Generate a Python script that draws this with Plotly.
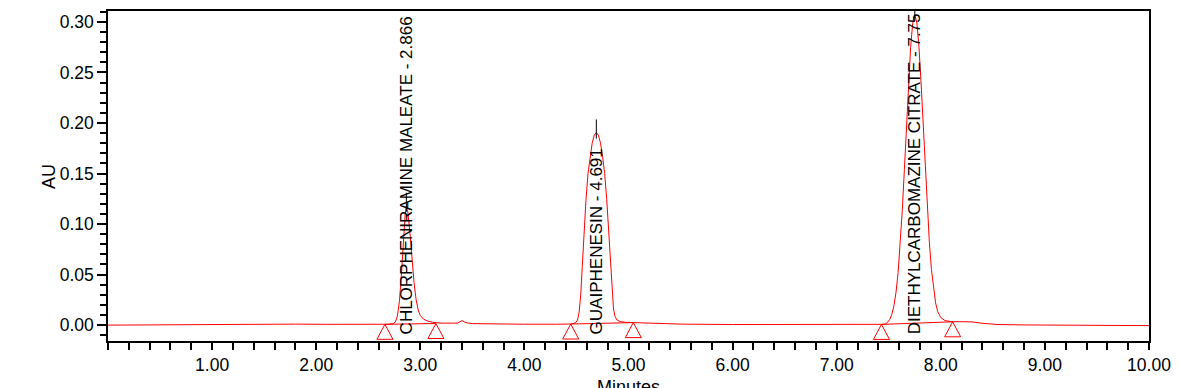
import plotly.graph_objects as go

# ---- chromatogram trace (minutes, AU) ----
time_min = [0.00, 0.30, 0.60, 0.90, 1.20, 1.50, 1.80, 2.10, 2.40, 2.60,
            2.70, 2.74, 2.76, 2.78, 2.80, 2.82, 2.84, 2.855, 2.866, 2.88,
            2.90, 2.92, 2.94, 2.96, 2.98, 3.00, 3.03, 3.07, 3.12, 3.20,
            3.30, 3.36, 3.40, 3.44, 3.50, 3.70, 4.00, 4.30, 4.45, 4.49,
            4.51, 4.526, 4.541, 4.556, 4.571, 4.591, 4.611, 4.631, 4.651, 4.671,
            4.691, 4.711, 4.731, 4.751, 4.771, 4.791, 4.811, 4.826, 4.841, 4.856,
            4.871, 4.891, 4.92, 4.97, 5.05, 5.20, 5.50, 6.00, 6.50, 7.00,
            7.30, 7.44, 7.47, 7.49, 7.51, 7.53, 7.55, 7.57, 7.59, 7.61,
            7.63, 7.65, 7.67, 7.69, 7.71, 7.73, 7.75, 7.77, 7.79, 7.81,
            7.83, 7.85, 7.87, 7.89, 7.91, 7.93, 7.95, 7.97, 8.00, 8.04,
            8.10, 8.20, 8.30, 8.40, 8.55, 8.80, 9.20, 9.60, 10.00]
au = [0.0000, 0.0002, 0.0006, 0.0009, 0.0011, 0.0011, 0.0010, 0.0008, 0.0007, 0.0007,
      0.0009, 0.0014, 0.0030, 0.0090, 0.0240, 0.0520, 0.0880, 0.1100, 0.1180, 0.1120,
      0.0920, 0.0660, 0.0420, 0.0250, 0.0150, 0.0095, 0.0060, 0.0040, 0.0028, 0.0020,
      0.0016, 0.0020, 0.0045, 0.0024, 0.0015, 0.0011, 0.0009, 0.0009, 0.0011, 0.0022,
      0.0050, 0.0130, 0.0300, 0.0580, 0.0880, 0.1230, 0.1500, 0.1670, 0.1800, 0.1880,
      0.1905, 0.1880, 0.1800, 0.1670, 0.1500, 0.1240, 0.0900, 0.0610, 0.0330, 0.0160,
      0.0085, 0.0050, 0.0035, 0.0028, 0.0025, 0.0018, 0.0010, 0.0006, 0.0005, 0.0005,
      0.0006, 0.0008, 0.0013, 0.0029, 0.0057, 0.0108, 0.0193, 0.0326, 0.0522, 0.0791,
      0.1133, 0.1537, 0.1972, 0.2393, 0.2748, 0.2986, 0.3070, 0.2990, 0.2755, 0.2405,
      0.1990, 0.1560, 0.1160, 0.0820, 0.0550, 0.0355, 0.0220, 0.0135, 0.0075, 0.0045,
      0.0034, 0.0034, 0.0032, 0.0018, 0.0006, 0.0002, 0.0000, -0.0003, -0.0005]

# ---- peaks ----
peak_names = ["CHLORPHENIRAMINE MALEATE - 2.866",
              "GUAIPHENESIN - 4.691",
              "DIETHYLCARBOMAZINE CITRATE - 7.75"]
peak_rt = [2.866, 4.691, 7.75]
peak_height = [0.118, 0.1905, 0.307]

# ---- integration start / end markers ----
mark_time = [2.66, 3.15, 4.445, 5.046, 7.43, 8.114]
mark_au = [0.0008, 0.0016, 0.0011, 0.0025, 0.0007, 0.0033]

# ---- axis ticks ----
x_tickvals = [1, 2, 3, 4, 5, 6, 7, 8, 9, 10]
x_ticktext = ["1.00", "2.00", "3.00", "4.00", "5.00", "6.00", "7.00", "8.00", "9.00", "10.00"]
y_tickvals = [0.00, 0.05, 0.10, 0.15, 0.20, 0.25, 0.30]
y_ticktext = ["0.00", "0.05", "0.10", "0.15", "0.20", "0.25", "0.30"]

FONT = "Arial, Liberation Sans, sans-serif"
RED = "#ff0000"

fig = go.Figure()
fig.add_trace(go.Scatter(x=time_min, y=au, mode="lines",
                         line=dict(color=RED, width=1), hoverinfo="skip"))

# integration baselines between start/end markers
for i in range(0, len(mark_time), 2):
    fig.add_trace(go.Scatter(x=mark_time[i:i + 2], y=mark_au[i:i + 2], mode="lines",
                             line=dict(color=RED, width=1), hoverinfo="skip"))

shapes = []
for t, v in zip(mark_time, mark_au):
    shapes.append(dict(type="path", xref="x", yref="y",
                       xsizemode="pixel", ysizemode="pixel",
                       xanchor=t, yanchor=v,
                       path="M -8,-15 L 0,0 L 8,-15 Z",
                       line=dict(color=RED, width=1)))
for t, h in zip(peak_rt, peak_height):
    shapes.append(dict(type="line", xref="x", yref="y",
                       x0=t, x1=t, y0=h - 0.006, y1=h + 0.013,
                       line=dict(color="black", width=1)))

annotations = []
for name, t in zip(peak_names, peak_rt):
    annotations.append(dict(x=t, y=-0.0108, xref="x", yref="y", text=name,
                            textangle=-90, xanchor="center", yanchor="bottom",
                            showarrow=False, font=dict(family=FONT, size=17, color="black")))
annotations.append(dict(x=-0.0567, y=0.5, xref="paper", yref="paper", text="AU",
                        textangle=-90, showarrow=False, xanchor="center", yanchor="middle",
                        font=dict(family=FONT, size=18, color="black")))
annotations.append(dict(x=0.5, y=-0.1024, xref="paper", yref="paper", text="Minutes",
                        showarrow=False, xanchor="center", yanchor="top",
                        font=dict(family=FONT, size=18, color="black")))

# the page body adds an 8 px offset, so the figure is 8 px smaller in each direction
fig.update_layout(
    width=1171, height=380,
    margin=dict(l=100, r=30, t=1, b=47),
    paper_bgcolor="white", plot_bgcolor="white",
    showlegend=False,
    shapes=shapes, annotations=annotations,
    font=dict(family=FONT, size=17.5, color="black"),
    xaxis=dict(range=[0, 10], tickvals=x_tickvals, ticktext=x_ticktext,
               ticks="outside", ticklen=7, tickwidth=1.5, tickcolor="black",
               minor=dict(dtick=0.2, tick0=0, ticks="outside", ticklen=7,
                          tickwidth=1.5, tickcolor="black", showgrid=False),
               showline=True, linecolor="black", linewidth=1.5, mirror=True,
               showgrid=False, zeroline=False,
               tickfont=dict(family=FONT, size=17.5, color="black")),
    yaxis=dict(range=[-0.0157, 0.3108], tickvals=y_tickvals, ticktext=y_ticktext,
               ticks="outside", ticklen=9, tickwidth=1.5, tickcolor="black",
               minor=dict(dtick=0.01, tick0=0, ticks="outside", ticklen=6,
                          tickwidth=1.5, tickcolor="black", showgrid=False),
               showline=True, linecolor="black", linewidth=1.5, mirror=True,
               showgrid=False, zeroline=False,
               tickfont=dict(family=FONT, size=17.5, color="black")),
)

fig.write_html("out.html")
